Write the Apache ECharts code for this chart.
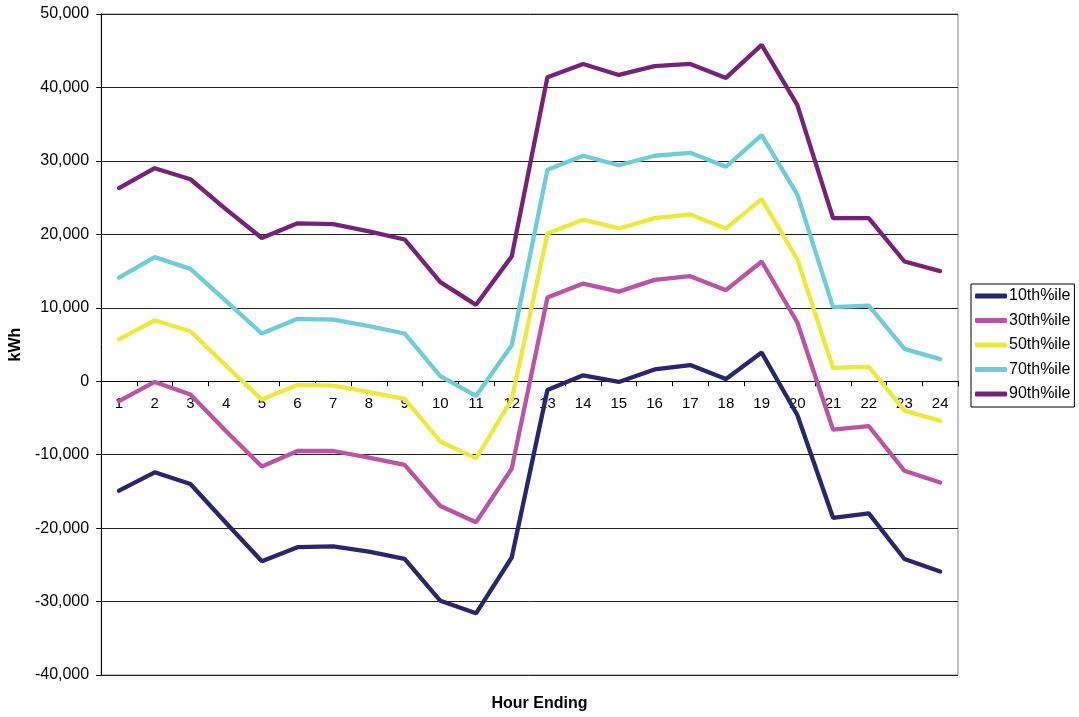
<!DOCTYPE html>
<html>
<head>
<meta charset="utf-8">
<script src="https://cdn.jsdelivr.net/npm/echarts@6/dist/echarts.min.js"></script>
<style>
html,body{margin:0;padding:0;background:#fff;}
#chart{width:1079px;height:717px;}
</style>
</head>
<body>
<div id="chart"></div>
<script>
const hours = ['1','2','3','4','5','6','7','8','9','10','11','12','13','14','15','16','17','18','19','20','21','22','23','24'];
const seriesNames = ['10th%ile','30th%ile','50th%ile','70th%ile','90th%ile'];
const p10 = [-14900,-12400,-14000,-19300,-24500,-22600,-22500,-23200,-24200,-29900,-31600,-24000,-1200,800,-100,1600,2200,300,3900,-4600,-18600,-18000,-24200,-25900];
const p30 = [-2700,-100,-1800,-6800,-11600,-9500,-9500,-10400,-11400,-17000,-19200,-11900,11400,13300,12200,13800,14300,12400,16300,8000,-6600,-6100,-12200,-13800];
const p50 = [5700,8300,6800,2100,-2500,-500,-600,-1500,-2400,-8200,-10500,-2500,20100,22000,20800,22200,22700,20800,24800,16600,1800,2000,-4000,-5400];
const p70 = [14100,16900,15300,10900,6500,8500,8400,7500,6500,700,-2000,4900,28800,30700,29400,30700,31100,29200,33500,25400,10100,10300,4400,3000];
const p90 = [26300,29000,27500,23400,19500,21500,21400,20400,19300,13500,10400,17000,41400,43200,41700,42900,43200,41300,45800,37600,22200,22200,16300,15000];
const yTicks = [-40000,-30000,-20000,-10000,0,10000,20000,30000,40000,50000];
const colors = ['#27266e','#bb53a6','#efe93c','#6ecdd8','#77217a'];
const allData = [p10,p30,p50,p70,p90];

const gridTop = 14, gridBottom = 42, H = 717;
const plotH = H - gridTop - gridBottom;
const yMin = yTicks[0], yMax = yTicks[yTicks.length-1];
// move the category axis up to the zero line
const zeroOffset = -plotH * (0 - yMin) / (yMax - yMin);

const chart = echarts.init(document.getElementById('chart'), null, {renderer:'canvas'});
const font = 'Arial, "Liberation Sans", sans-serif';
chart.setOption({
  animation:false,
  backgroundColor:'#fff',
  color:colors,
  grid:{left:101,right:121,top:gridTop,bottom:gridBottom,show:true,borderColor:'#888',borderWidth:1},
  legend:{
    orient:'vertical', left:971, top:284,
    data:seriesNames,
    icon:'roundRect', itemWidth:32, itemHeight:5, itemGap:8.5,
    padding:[4,4,5,4],
    borderColor:'#000', borderWidth:1,
    textStyle:{fontFamily:font,fontSize:16,color:'#000',padding:[0,0,0,-3]}
  },
  graphic:[{
    type:'text', left:'center', top:696,
    x:-40,
    style:{text:'Hour Ending', font:'bold 16px '+font, fill:'#000'}
  }],
  xAxis:{
    type:'category', data:hours, boundaryGap:true,
    position:'bottom', offset:zeroOffset,
    axisLine:{onZero:false,lineStyle:{color:'#000',width:1}},
    axisTick:{show:true,length:5,lineStyle:{color:'#000'}},
    axisLabel:{fontFamily:font,fontSize:15,color:'#000',margin:15,interval:0},
    splitLine:{show:false}
  },
  yAxis:{
    type:'value', min:yMin, max:yMax, interval:10000,
    name:'kWh', nameLocation:'middle', nameGap:77, nameRotate:90,
    nameTextStyle:{fontFamily:font,fontSize:16,fontWeight:'bold',color:'#000'},
    axisLine:{show:true,lineStyle:{color:'#000',width:1}},
    axisTick:{show:true,length:5,lineStyle:{color:'#000'}},
    axisLabel:{fontFamily:font,fontSize:16,color:'#000',margin:12,
      formatter:v=>v.toLocaleString('en-US')},
    splitLine:{show:true,lineStyle:{color:'#222',width:1}}
  },
  series: seriesNames.map((n,i)=>({
    name:n, type:'line', data:allData[i], symbol:'none',
    lineStyle:{width:4.3,color:colors[i],cap:'round'}, itemStyle:{color:colors[i]}
  }))
});
</script>
</body>
</html>
